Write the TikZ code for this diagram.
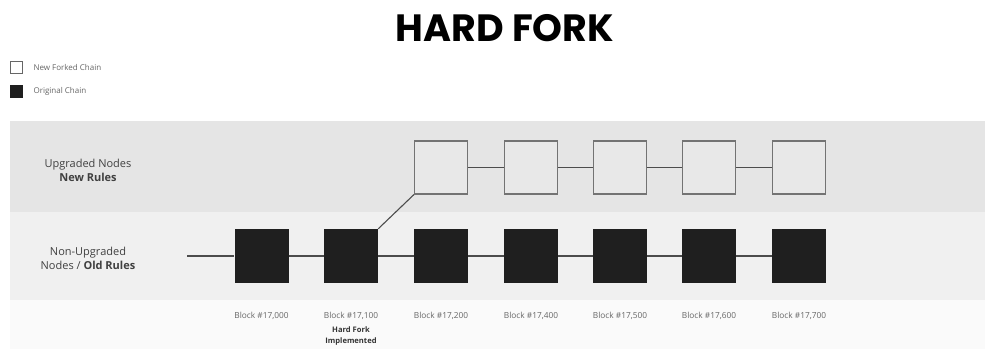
\documentclass[tikz,border=0pt]{standalone}
\usepackage{fontspec}
\setmainfont{Open Sans}
\newfontfamily\titlefont{Poppins}
\begin{document}
\begin{tikzpicture}[x=1pt,y=-1pt,
  newblk/.style={draw=black!55,line width=1.2pt,fill=black!9,minimum size=53pt,inner sep=0pt},
  oldblk/.style={draw=none,fill=black!88,minimum size=54pt,inner sep=0pt},
  link/.style={draw=black!70,line width=1.1pt},
  blklbl/.style={font=\fontsize{8.3}{9}\selectfont,text=black!60},
  rowlbl/.style={font=\fontsize{11}{14}\selectfont,text=black!75,align=center},
  leglbl/.style={font=\fontsize{8}{9}\selectfont,text=black!60,anchor=west}]
\useasboundingbox (0,0) rectangle (985,349);
\fill[white] (0,0) rectangle (985,349);
% bands
\fill[black!10] (10,121) rectangle (985,212);
\fill[black!6] (10,212) rectangle (985,300);
\fill[black!2] (10,300) rectangle (985,349);
% title
\node[font=\titlefont\bfseries\fontsize{38}{40}\selectfont] (title) at (505,28) {HARD FORK};
% legend
\node[draw=black!60,line width=0.8pt,fill=white,minimum size=12pt,inner sep=0pt] (lw) at (16.5,67) {};
\node[leglbl] (lwt) at (30,67) {New Forked Chain};
\node[fill=black!88,minimum size=13pt,inner sep=0pt] (lb) at (16.5,91) {};
\node[leglbl] (lbt) at (30,91) {Original Chain};
% row labels
\node[rowlbl] (up) at (88,170) {Upgraded Nodes\\\textbf{New Rules}};
\node[rowlbl] (nu) at (88,258) {Non-Upgraded\\Nodes / \textbf{Old Rules}};
% old chain
\coordinate (start) at (187,256);
\foreach \i/\x in {1/261.5,2/351,3/441,4/531,5/620,6/709,7/799}{
  \node[oldblk] (o\i) at (\x,256) {};
}
\foreach \i/\x in {3/441,4/531,5/620,6/709,7/799}{
  \node[newblk] (n\i) at (\x,167.5) {};
}
\draw[link] (start) -- (o1);
\foreach \a/\b in {1/2,2/3,3/4,4/5,5/6,6/7}{ \draw[link] (o\a) -- (o\b); }
\foreach \a/\b in {3/4,4/5,5/6,6/7}{ \draw[link] (n\a) -- (n\b); }
\draw[link] (o2.north east) -- (n3.south west);
% block labels
\foreach \i/\t in {1/{17,000},2/{17,100},3/{17,200},4/{17,400},5/{17,500},6/{17,600},7/{17,700}}{
  \node[blklbl] (b\i) at (o\i |- 0,316) {Block \#\t};
}
\node[font=\fontsize{7.6}{11}\selectfont\bfseries,text=black!80,align=center,anchor=north] (hf) at (351,323) {Hard Fork\\Implemented};
\end{tikzpicture}
\end{document}
